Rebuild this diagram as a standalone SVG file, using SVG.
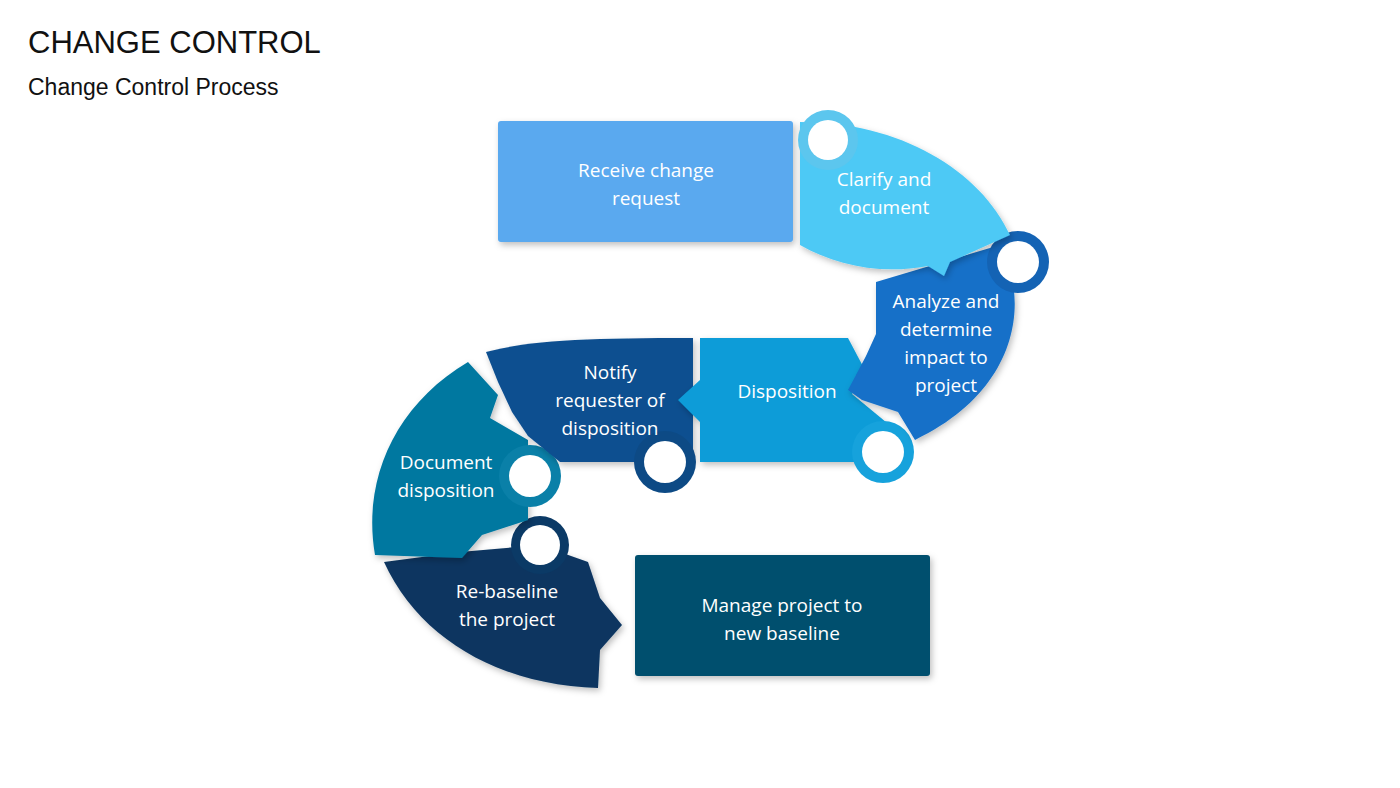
<svg xmlns="http://www.w3.org/2000/svg" width="1400" height="788" viewBox="0 0 1400 788">
<defs>
<filter id="sh" x="-10%" y="-10%" width="130%" height="130%"><feDropShadow dx="2" dy="3" stdDeviation="3" flood-color="#000" flood-opacity="0.25"/></filter>
</defs>
<style>
text{font-family:"Liberation Sans","Open Sans",sans-serif;}
.t{fill:#fff;font-size:19px;text-anchor:middle;font-family:"Open Sans","Liberation Sans",sans-serif;}
.w{fill:#fff;}
</style>
<rect width="1400" height="788" fill="#fff"/>
<text x="28" y="53" font-size="31" fill="#111" font-family="Open Sans, sans-serif">CHANGE CONTROL</text>
<text x="28" y="95" font-size="23" fill="#111" font-family="Open Sans, sans-serif">Change Control Process</text>

<g id="receive"><rect x="498" y="121" width="295" height="121" rx="3" fill="#5aa9ef" filter="url(#sh)"/>
<text class="t" x="646" y="177">Receive change</text><text class="t" x="646" y="205">request</text></g>

<g id="manage"><rect x="635" y="555" width="295" height="121" rx="3" fill="#04506e" filter="url(#sh)"/>
<text class="t" x="782" y="612">Manage project to</text><text class="t" x="782" y="640">new baseline</text></g>

<g id="rebaseline"><path d="M384,562 C420,640 500,685 598,688 L600,650 L622,625 L600,598 L588,562 L540,545 L460,552 Z" fill="#0a3560" filter="url(#sh)"/>
<circle cx="540" cy="545" r="29" fill="#0b3a66"/><circle cx="540" cy="545" r="20" class="w"/>
<text class="t" x="507" y="598">Re-baseline</text><text class="t" x="507" y="626">the project</text></g>

<g id="document"><path d="M468,362 L498,395 L490,418 L528,440 L528,520 L482,535 L462,558 L375,555 C362,480 395,405 468,362 Z" fill="#0478a0" filter="url(#sh)"/>
<circle cx="530" cy="476" r="31" fill="#0a80a8"/><circle cx="530" cy="476" r="21" class="w"/>
<text class="t" x="446" y="469">Document</text><text class="t" x="446" y="497">disposition</text></g>

<g id="notify"><path d="M486,352 C530,340 590,338 693,338 L693,462 L560,462 L528,436 L512,412 L498,382 Z" fill="#0e4f90" filter="url(#sh)"/>
<circle cx="665" cy="462" r="31" fill="#0d4a85"/><circle cx="665" cy="462" r="21" class="w"/>
<text class="t" x="610" y="379">Notify</text><text class="t" x="610" y="407">requester of</text><text class="t" x="610" y="435">disposition</text></g>

<g id="disposition"><path d="M700,338 L848,338 L866,372 L852,394 L898,432 L862,462 L700,462 L700,422 L678,400 L700,380 Z" fill="#0a9cd8" filter="url(#sh)"/>
<circle cx="883" cy="452" r="31" fill="#16a2dc"/><circle cx="883" cy="452" r="21" class="w"/>
<text class="t" x="787" y="398">Disposition</text></g>

<g id="analyze"><path d="M876,282 L1000,245 C1030,300 1020,390 915,440 L898,412 L862,400 L848,390 L866,356 L876,334 Z" fill="#1570c8" filter="url(#sh)"/>
<circle cx="1018" cy="262" r="31" fill="#1463b4"/><circle cx="1018" cy="262" r="21" class="w"/>
<text class="t" x="946" y="308">Analyze and</text><text class="t" x="946" y="336">determine</text><text class="t" x="946" y="364">impact to</text><text class="t" x="946" y="392">project</text></g>

<g id="clarify"><path d="M800,122 C900,122 980,170 1010,235 L950,262 L944,276 L928,266 C880,275 835,265 800,245 Z" fill="#4ec9f5" filter="url(#sh)"/>
<circle cx="828" cy="140" r="30" fill="#5cc6ee"/><circle cx="828" cy="140" r="20" class="w"/>
<text class="t" x="884" y="186">Clarify and</text><text class="t" x="884" y="214">document</text></g>
</svg>
